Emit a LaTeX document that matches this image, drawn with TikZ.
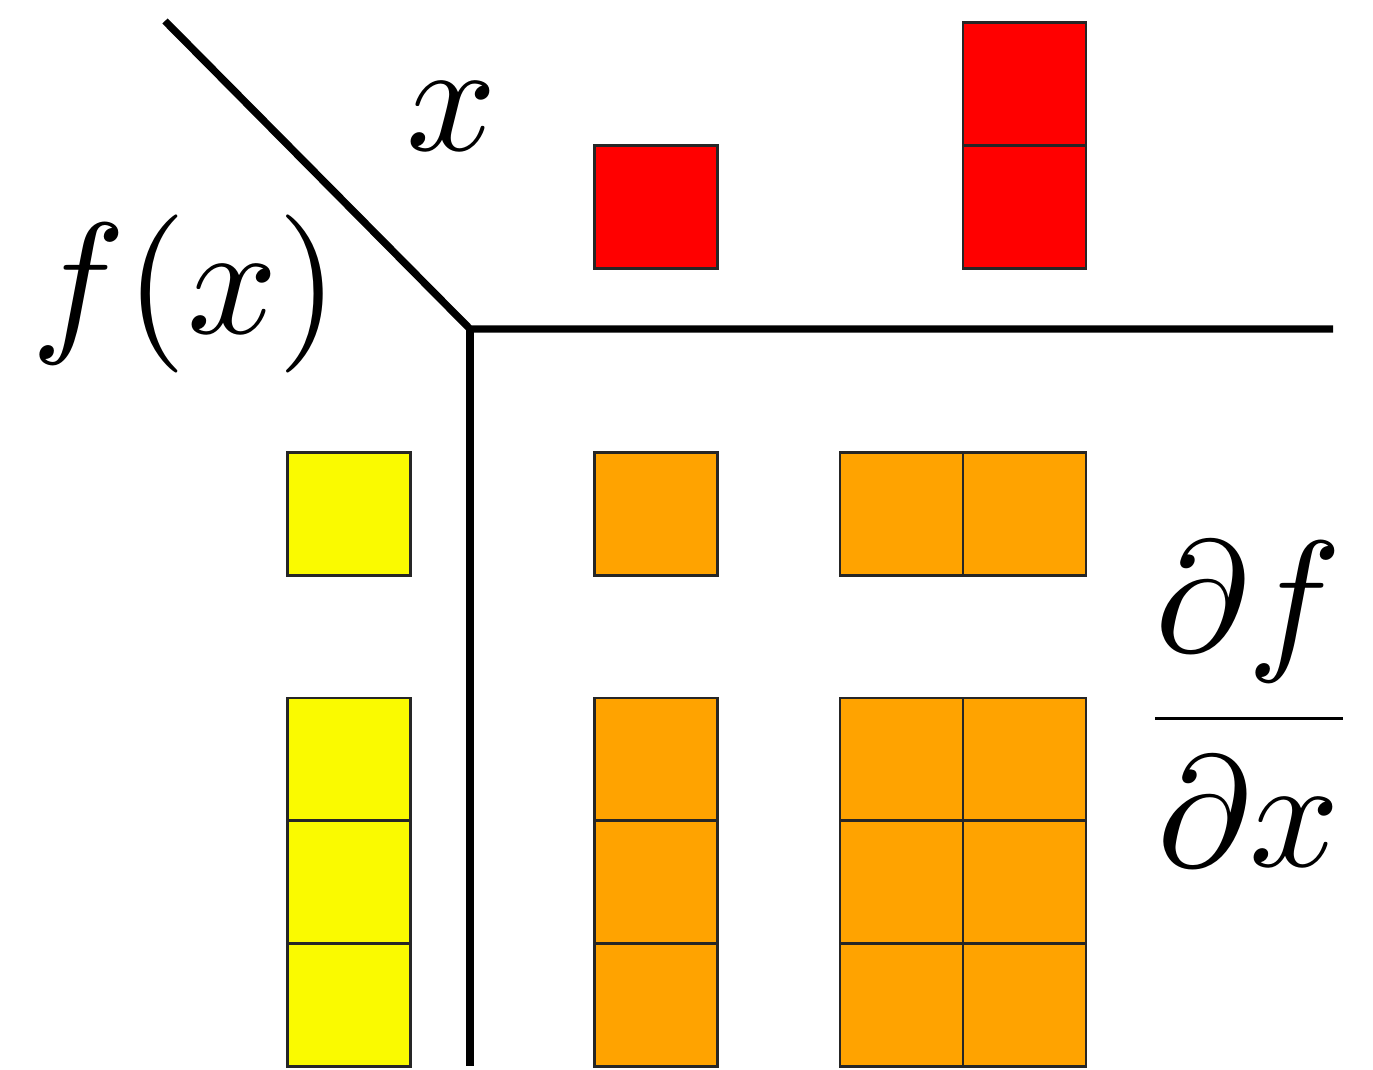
\documentclass[tikz,border=0pt]{standalone}
\usepackage{amsmath}
\definecolor{cellred}{RGB}{255,0,0}
\definecolor{cellyellow}{RGB}{250,250,0}
\definecolor{cellorange}{RGB}{255,163,0}
\newcommand{\biglbl}[1]{\scalebox{9}{\fontsize{10}{12}\selectfont #1}}
\begin{document}
\begin{tikzpicture}[x=0.02cm,y=-0.02cm,
  cell/.style={draw=black!85,line width=1.4pt,inner sep=0pt,minimum width=2.454cm,minimum height=2.454cm,rectangle},
  redcell/.style={cell,fill=cellred},
  yelcell/.style={cell,fill=cellyellow},
  orcell/.style={cell,fill=cellorange},
  axis/.style={line width=4.2pt,black},
  lbl/.style={inner sep=0pt,anchor=base}]
\useasboundingbox (0,0) rectangle (1373,1070);
% axes
\coordinate (corner) at (470,329);
\coordinate (diagend) at (165,21);
\coordinate (hend) at (1333,329);
\coordinate (vend) at (470,1066);
\draw[axis,line join=miter] (diagend) -- (corner) -- (hend);
\draw[axis] (corner) -- (vend);
% top (x) cells
\node[redcell] (r1) at (656,207) {};
\node[redcell] (r2a) at (1024.5,84) {};
\node[redcell] (r2b) at (1024.5,207) {};
% left (f(x)) cells
\node[yelcell] (y1) at (349,514) {};
\node[yelcell] (y3a) at (349,759.5) {};
\node[yelcell] (y3b) at (349,882) {};
\node[yelcell] (y3c) at (349,1005) {};
% jacobian cells
\node[orcell] (o11) at (656,514) {};
\node[orcell] (o12a) at (901.5,514) {};
\node[orcell] (o12b) at (1024.5,514) {};
\node[orcell] (o21a) at (656,759.5) {};
\node[orcell] (o21b) at (656,882) {};
\node[orcell] (o21c) at (656,1005) {};
\node[orcell] (o22a) at (901.5,759.5) {};
\node[orcell] (o22b) at (1024.5,759.5) {};
\node[orcell] (o22c) at (901.5,882) {};
\node[orcell] (o22d) at (1024.5,882) {};
\node[orcell] (o22e) at (901.5,1005) {};
\node[orcell] (o22f) at (1024.5,1005) {};
% labels
\node[lbl] (xlbl) at (452,151) {\biglbl{$x$}};
\node[lbl] (fxlbl) at (185,334) {\biglbl{$f(x)$}};
\node[lbl] (dfdx) at (1249,758) {\biglbl{$\genfrac{}{}{0.17pt}{0}{\partial f}{\partial x}$}};
\end{tikzpicture}
\end{document}
